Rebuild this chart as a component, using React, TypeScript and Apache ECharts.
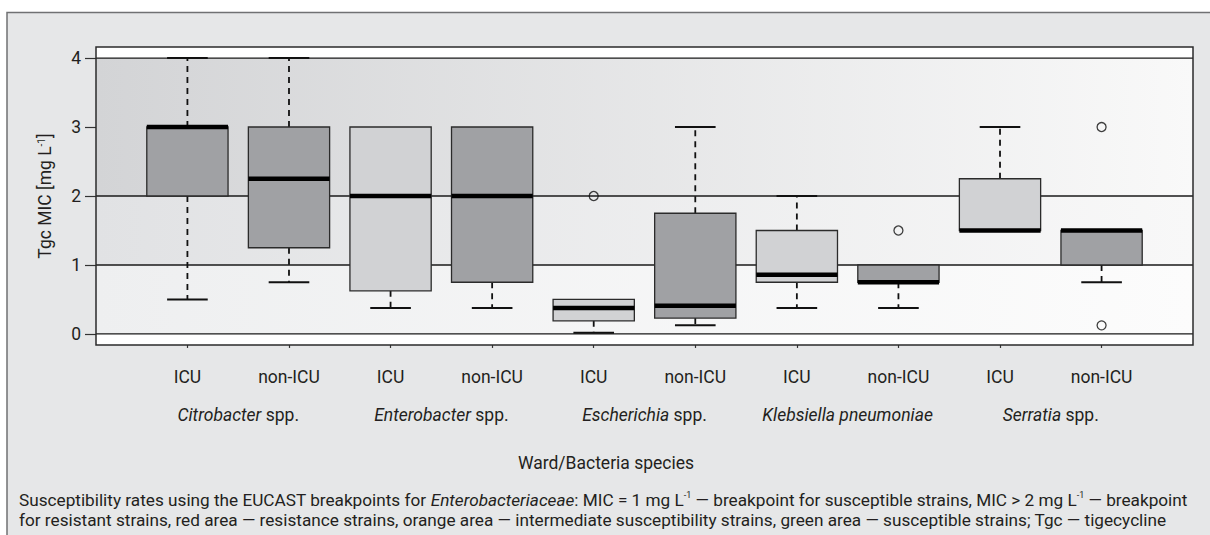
import React, { useEffect, useRef } from 'react';
import * as echarts from 'echarts';

// ---- data ----
const wards = ['ICU', 'non-ICU', 'ICU', 'non-ICU', 'ICU', 'non-ICU', 'ICU', 'non-ICU', 'ICU', 'non-ICU'];
const speciesItalic = ['Citrobacter', 'Enterobacter', 'Escherichia', 'Klebsiella pneumoniae', 'Serratia'];
const speciesSuffix = [' spp.', ' spp.', ' spp.', '', ' spp.'];
const positions = [1, 2, 3, 4, 5, 6, 7, 8, 9, 10];
const speciesPositions = [1.5, 3.5, 5.5, 7.5, 9.5];
const boxMin = [0.5, 0.75, 0.375, 0.375, 0.016, 0.125, 0.375, 0.375, 1.5, 0.75];
const boxQ1 = [2, 1.25, 0.625, 0.75, 0.19, 0.23, 0.75, 0.75, 1.5, 1.0];
const boxMedian = [3, 2.25, 2, 2, 0.375, 0.41, 0.86, 0.75, 1.5, 1.5];
const boxQ3 = [3, 3, 3, 3, 0.5, 1.75, 1.5, 1.0, 2.25, 1.5];
const boxMax = [4, 4, 3, 3, 0.5, 3, 2, 1.0, 3, 1.5];
const boxShade = [1, 1, 0, 1, 0, 1, 0, 1, 0, 1]; // 1 = dark, 0 = light
const outlierPos = [5, 8, 10, 10];
const outlierVal = [2, 1.5, 3, 0.125];
const yTicks = [0, 1, 2, 3, 4];
const breakpointLines = [0, 1, 2, 4];
const zoneLow = [0, 1, 2];
const zoneHigh = [1, 2, 4];

const XMIN = 0.1;
const XMAX = 10.9;
const YMIN = -0.16;
const YMAX = 4.16;
const BOXWEX = 0.8;

const FONT = 'Roboto, "Open Sans", sans-serif';
const TXT = '#231f20';
const FS = 17.5;
const CAP_FS = 17.2;

const zoneStops = [
  [
    { offset: 0, color: '#eeeff0' },
    { offset: 1, color: '#fcfcfc' },
  ],
  [
    { offset: 0, color: '#e1e2e4' },
    { offset: 1, color: '#f8f8f8' },
  ],
  [
    { offset: 0, color: '#d3d4d6' },
    { offset: 1, color: '#f9f9f9' },
  ],
];

export default function App() {
  const ref = useRef<HTMLDivElement>(null);

  useEffect(() => {
    if (!ref.current) return;
    const chart = echarts.init(ref.current, undefined, { renderer: 'svg' });

    const boxData = positions.map((p, i) => [p, boxMin[i], boxQ1[i], boxMedian[i], boxQ3[i], boxMax[i], boxShade[i]]);
    const outData = outlierPos.map((p, i) => [p, outlierVal[i]]);
    const zoneData = zoneLow.map((lo, i) => [lo, zoneHigh[i], i]);
    const lineData = breakpointLines.map((v) => [v]);

    const rich = {
      n: { fontFamily: FONT, fontSize: FS, color: TXT },
      i: { fontFamily: FONT, fontSize: FS, color: TXT, fontStyle: 'italic' },
      s: { fontFamily: FONT, fontSize: 10, color: TXT, verticalAlign: 'top', lineHeight: 13 },
    };

    const capRich = {
      n: { fontFamily: FONT, fontSize: CAP_FS, color: TXT, lineHeight: 20 },
      i: { fontFamily: FONT, fontSize: CAP_FS, color: TXT, lineHeight: 20, fontStyle: 'italic' },
      s: { fontFamily: FONT, fontSize: 9, color: TXT, lineHeight: 13, verticalAlign: 'top' },
    };

    const option: any = {
      animation: false,
      backgroundColor: '#ffffff',
      grid: { left: 96, top: 47, width: 1097, height: 298, show: false },
      xAxis: [
        {
          type: 'value',
          min: XMIN,
          max: XMAX,
          axisLine: { show: false },
          splitLine: { show: false },
          axisTick: { show: true, inside: false, length: 14, customValues: positions, lineStyle: { color: '#333', width: 1.2 } },
          axisLabel: {
            customValues: positions,
            margin: 23,
            fontFamily: FONT,
            fontSize: FS,
            color: TXT,
            formatter: (v: number) => wards[Math.round(v) - 1] ?? '',
          },
        },
        {
          type: 'value',
          min: XMIN,
          max: XMAX,
          position: 'bottom',
          axisLine: { show: false },
          splitLine: { show: false },
          axisTick: { show: false },
          axisLabel: {
            customValues: speciesPositions,
            margin: 61,
            rich,
            formatter: (v: number) => {
              const k = Math.round((v - 1.5) / 2);
              const suf = speciesSuffix[k];
              return `{i|${speciesItalic[k]}}` + (suf ? `{n|${suf}}` : '');
            },
          },
        },
      ],
      yAxis: {
        type: 'value',
        min: YMIN,
        max: YMAX,
        axisLine: { show: false },
        splitLine: { show: false },
        axisTick: { show: true, inside: false, length: 11, customValues: yTicks, lineStyle: { color: '#333', width: 1.2 } },
        axisLabel: { customValues: yTicks, margin: 15, fontFamily: FONT, fontSize: FS, color: TXT },
        name: '{n|Tgc MIC [mg L}{s|-1}{n|]}',
        nameLocation: 'middle',
        nameRotate: 90,
        nameGap: 42,
        nameTextStyle: { rich },
      },
      graphic: [
        {
          type: 'rect',
          z: -100,
          silent: true,
          shape: { x: 7, y: 12.5, width: 1210, height: 530 },
          style: { fill: '#e6e7e8', stroke: '#707173', lineWidth: 1.5 },
        },
        {
          type: 'text',
          x: 606,
          y: 463,
          silent: true,
          style: {
            text: 'Ward/Bacteria species',
            fontFamily: FONT,
            fontSize: FS,
            fill: TXT,
            align: 'center',
            verticalAlign: 'middle',
          },
        },
        {
          type: 'text',
          x: 19,
          y: 490,
          silent: true,
          style: {
            text:
              '{n|Susceptibility rates using the EUCAST breakpoints for }{i|Enterobacteriaceae}{n|: MIC = 1 mg L}{s|-1}{n| — breakpoint for susceptible strains, MIC > 2 mg L}{s|-1}{n| — breakpoint}\n' +
              '{n|for resistant strains, red area — resistance strains, orange area — intermediate susceptibility strains, green area — susceptible strains; Tgc — tigecycline}',
            rich: capRich,
            fill: TXT,
          },
        },
      ],
      series: [
        {
          type: 'custom',
          name: 'plot background',
          silent: true,
          z: 1,
          data: [[XMIN, YMIN, XMAX, YMAX]],
          renderItem: (params: any, api: any) => {
            const a = api.coord([api.value(0), api.value(3)]);
            const b = api.coord([api.value(2), api.value(1)]);
            return {
              type: 'rect',
              shape: { x: a[0], y: a[1], width: b[0] - a[0], height: b[1] - a[1] },
              style: { fill: '#ffffff' },
            };
          },
        },
        {
          type: 'custom',
          name: 'zones',
          silent: true,
          z: 2,
          data: zoneData,
          renderItem: (params: any, api: any) => {
            const a = api.coord([XMIN, api.value(1)]);
            const b = api.coord([XMAX, api.value(0)]);
            const k = api.value(2);
            return {
              type: 'rect',
              shape: { x: a[0], y: a[1], width: b[0] - a[0], height: b[1] - a[1] },
              style: { fill: new echarts.graphic.LinearGradient(0, 0, 1, 0, zoneStops[k]) },
            };
          },
        },
        {
          type: 'custom',
          name: 'breakpoints',
          silent: true,
          z: 3,
          data: lineData,
          renderItem: (params: any, api: any) => {
            const a = api.coord([XMIN, api.value(0)]);
            const b = api.coord([XMAX, api.value(0)]);
            return {
              type: 'line',
              shape: { x1: a[0], y1: a[1], x2: b[0], y2: b[1] },
              style: { stroke: '#1a1a1a', lineWidth: 1.3 },
            };
          },
        },
        {
          type: 'custom',
          name: 'boxes',
          z: 4,
          data: boxData,
          renderItem: (params: any, api: any) => {
            const x = api.value(0);
            const lo = api.value(1);
            const q1 = api.value(2);
            const med = api.value(3);
            const q3 = api.value(4);
            const hi = api.value(5);
            const dark = api.value(6) === 1;
            const half = api.size([BOXWEX, 0])[0] / 2;
            const capHalf = half / 2;
            const pLo = api.coord([x, lo]);
            const pQ1 = api.coord([x, q1]);
            const pMed = api.coord([x, med]);
            const pQ3 = api.coord([x, q3]);
            const pHi = api.coord([x, hi]);
            const cx = pQ1[0];
            const children: any[] = [];
            const dash = { stroke: '#111', lineWidth: 1.8, lineDash: [6, 5] };
            const cap = { stroke: '#111', lineWidth: 2 };
            if (hi > q3) {
              children.push({ type: 'line', shape: { x1: cx, y1: pQ3[1], x2: cx, y2: pHi[1] }, style: dash });
              children.push({ type: 'line', shape: { x1: cx - capHalf, y1: pHi[1], x2: cx + capHalf, y2: pHi[1] }, style: cap });
            }
            if (lo < q1) {
              children.push({ type: 'line', shape: { x1: cx, y1: pQ1[1], x2: cx, y2: pLo[1] }, style: dash });
              children.push({ type: 'line', shape: { x1: cx - capHalf, y1: pLo[1], x2: cx + capHalf, y2: pLo[1] }, style: cap });
            }
            children.push({
              type: 'rect',
              shape: { x: cx - half, y: pQ3[1], width: half * 2, height: pQ1[1] - pQ3[1] },
              style: { fill: dark ? '#a0a1a4' : '#d1d2d4', stroke: '#2b2b2b', lineWidth: 1.3 },
            });
            children.push({
              type: 'line',
              shape: { x1: cx - half, y1: pMed[1], x2: cx + half, y2: pMed[1] },
              style: { stroke: '#000', lineWidth: 4.5 },
            });
            return { type: 'group', children };
          },
        },
        {
          type: 'scatter',
          name: 'outliers',
          z: 5,
          data: outData,
          symbol: 'circle',
          symbolSize: 9,
          itemStyle: { color: 'rgba(0,0,0,0)', borderColor: '#111', borderWidth: 1.3 },
        },
        {
          type: 'custom',
          name: 'frame',
          silent: true,
          z: 6,
          data: [[XMIN, YMIN, XMAX, YMAX]],
          renderItem: (params: any, api: any) => {
            const a = api.coord([api.value(0), api.value(3)]);
            const b = api.coord([api.value(2), api.value(1)]);
            return {
              type: 'rect',
              shape: { x: a[0], y: a[1], width: b[0] - a[0], height: b[1] - a[1] },
              style: { fill: 'none', stroke: '#2b2b2b', lineWidth: 1.5 },
            };
          },
        },
      ],
    };

    chart.setOption(option);
    return () => chart.dispose();
  }, []);

  return <div ref={ref} style={{ position: 'fixed', left: 0, top: 0, width: 1210, height: 535 }} />;
}
